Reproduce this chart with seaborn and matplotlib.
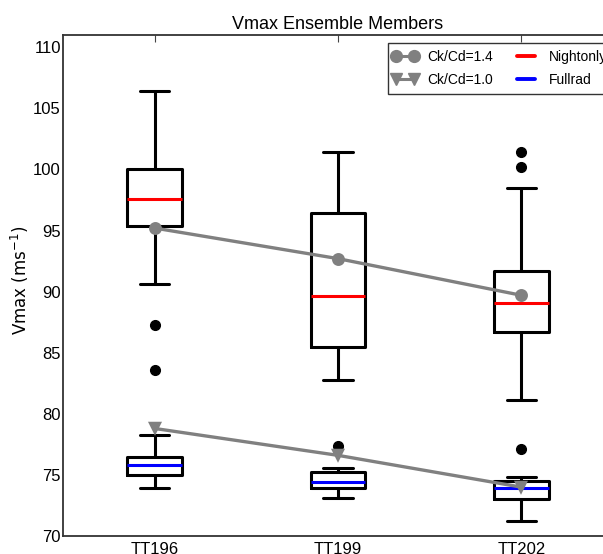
import numpy as np
import pandas as pd
import matplotlib
matplotlib.use("Agg")
import matplotlib.pyplot as plt
from matplotlib.lines import Line2D
from matplotlib.legend_handler import HandlerLine2D
import seaborn as sns

# ensemble members
cases = ["TT196", "TT199", "TT202"]

# Nightonly box stats
night_whislo = [90.6, 82.8, 81.1]
night_q1 = [95.4, 85.5, 86.7]
night_med = [97.6, 89.6, 89.1]
night_q3 = [100.0, 96.4, 91.7]
night_whishi = [106.4, 101.4, 98.5]
night_fliers = [[87.3, 83.6], [], [101.4, 100.2]]

# Fullrad box stats
full_whislo = [73.9, 73.1, 71.2]
full_q1 = [75.0, 73.9, 73.0]
full_med = [75.8, 74.4, 73.9]
full_q3 = [76.5, 75.2, 74.5]
full_whishi = [78.3, 75.6, 74.8]
full_fliers = [[], [77.4], [77.1]]

# Ck/Cd experiments
ckcd_14 = [95.2, 92.7, 89.7]
ckcd_10 = [78.8, 76.6, 74.0]

sns.set_style("white")
plt.rcParams["font.family"] = ["Liberation Sans", "DejaVu Sans"]
plt.rcParams["mathtext.default"] = "regular"
plt.rcParams["text.color"] = "black"
plt.rcParams["xtick.color"] = "black"
plt.rcParams["ytick.color"] = "black"
plt.rcParams["axes.labelcolor"] = "black"

fig = plt.figure(figsize=(6.03, 5.54), dpi=100)
ax = fig.add_axes([63 / 603, 18 / 554, 550 / 603, 501 / 554])

def make_stats(lo, q1, med, q3, hi, fl):
    return [dict(whislo=a, q1=b, med=c, q3=d, whishi=e, fliers=f)
            for a, b, c, d, e, f in zip(lo, q1, med, q3, hi, fl)]

lw = 2.2
pos = np.arange(len(cases))
common = dict(positions=pos, widths=0.3, capwidths=0.16, showfliers=True,
              boxprops=dict(color="black", lw=lw),
              whiskerprops=dict(color="black", lw=lw, ls="-"),
              capprops=dict(color="black", lw=lw),
              flierprops=dict(marker="o", markerfacecolor="black",
                              markeredgecolor="black", markersize=7))

ax.bxp(make_stats(night_whislo, night_q1, night_med, night_q3, night_whishi, night_fliers),
       medianprops=dict(color="red", lw=lw), **common)
ax.bxp(make_stats(full_whislo, full_q1, full_med, full_q3, full_whishi, full_fliers),
       medianprops=dict(color="blue", lw=lw), **common)

df = pd.DataFrame({"case": cases * 2,
                   "vmax": ckcd_14 + ckcd_10,
                   "exp": ["Ck/Cd=1.4"] * 3 + ["Ck/Cd=1.0"] * 3})
for name, mk in [("Ck/Cd=1.4", "o"), ("Ck/Cd=1.0", "v")]:
    sub = df[df["exp"] == name]
    sns.pointplot(data=sub, x="case", y="vmax", order=cases, color="grey",
                  markers=mk, linestyles="-", errorbar=None, ax=ax,
                  markersize=7.5, linewidth=2.4, zorder=5)

ax.set_xlim(-0.5, 2.5)
ax.set_ylim(70, 111)
ax.set_xticks(pos)
ax.set_xticklabels(cases)
ax.set_yticks(np.arange(70, 111, 5))
ax.set_xlabel("")
ax.set_ylabel("Vmax (ms$^{-1}$)", family="DejaVu Sans", fontsize=12)
ax.yaxis.set_label_coords(-0.058, 0.51)
ax.set_title("Vmax Ensemble Members", fontsize=13, pad=4)
ax.tick_params(labelsize=12, direction="in", top=True, right=True,
               length=5, color="#444444", pad=1.5)
ax.tick_params(axis="x", pad=4)
for s in ax.spines.values():
    s.set_color("#333333")
    s.set_linewidth(1.3)

handles = [
    Line2D([], [], color="grey", marker="o", ms=8.5, lw=lw),
    Line2D([], [], color="grey", marker="v", ms=8.5, lw=lw),
    Line2D([], [], color="red", lw=lw + 0.6),
    Line2D([], [], color="blue", lw=lw + 0.6),
]
labels = ["Ck/Cd=1.4", "Ck/Cd=1.0", "Nightonly", "Fullrad"]
leg = ax.legend(handles, labels, ncol=2, numpoints=2, loc="upper left",
                bbox_to_anchor=(0.591, 0.984), fontsize=10, fancybox=False,
                frameon=True, borderaxespad=0, handlelength=1.4, handletextpad=0.95,
                columnspacing=1.65, borderpad=0.5, labelspacing=0.65,
                handler_map={Line2D: HandlerLine2D(marker_pad=0.05)})
leg.get_frame().set_edgecolor("black")
leg.get_frame().set_linewidth(1.0)

fig.savefig("out.png", dpi=100)
